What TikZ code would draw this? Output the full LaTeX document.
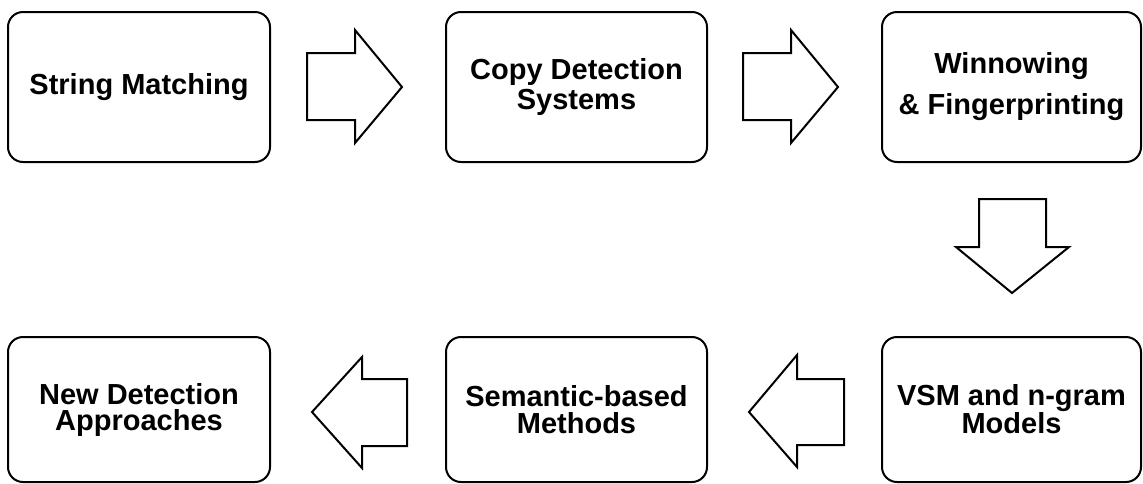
\documentclass[tikz,border=0pt]{standalone}
\usepackage{fontspec}
\setmainfont{Liberation Sans}
\begin{document}
\begin{tikzpicture}[x=1pt,y=-1pt,
  box/.style={draw=black,line width=2pt,rounded corners=15pt,align=center,
    inner sep=0pt,font=\bfseries\fontsize{29}{27}\selectfont},
  blockarrow/.style={draw=black,line width=2pt,fill=white,line join=miter}]
\useasboundingbox (0,0) rectangle (1143,483);
\node[box,minimum width=262pt,minimum height=150pt] (b1) at (139,87) {String Matching};
\node[box,minimum width=261pt,minimum height=150pt,font=\bfseries\fontsize{29}{30}\selectfont] (b2) at (576.5,87) {Copy Detection\\Systems};
\node[box,minimum width=259pt,minimum height=150pt,font=\bfseries\fontsize{29}{41}\selectfont] (b3) at (1011.5,87) {Winnowing\\\& Fingerprinting};
\node[box,minimum width=262pt,minimum height=145pt,font=\bfseries\fontsize{29}{26}\selectfont] (b4) at (139,409.5) {New Detection\\Approaches};
\node[box,minimum width=261pt,minimum height=145pt,font=\bfseries\fontsize{29}{27}\selectfont] (b5) at (576.5,409.5) {Semantic-based\\Methods};
\node[box,minimum width=259pt,minimum height=145pt,font=\bfseries\fontsize{29}{25}\selectfont] (b6) at (1011.5,409.5) {VSM and n-gram\\Models};
% block arrows
\draw[blockarrow] (307,53) -- (355,53) -- (355,30) -- (402,87) -- (355,143) -- (355,120) -- (307,120) -- cycle;
\draw[blockarrow] (743,53) -- (791,53) -- (791,30) -- (838,87) -- (791,143) -- (791,120) -- (743,120) -- cycle;
\draw[blockarrow] (979,199) -- (1046,199) -- (1046,247) -- (1069,247) -- (1012,293) -- (956,247) -- (979,247) -- cycle;
\draw[blockarrow] (407,379) -- (362,379) -- (362,357) -- (312,412) -- (362,468) -- (362,446) -- (407,446) -- cycle;
\draw[blockarrow] (844,379) -- (797,379) -- (797,355) -- (749,412) -- (797,467) -- (797,445) -- (844,445) -- cycle;
\end{tikzpicture}
\end{document}
